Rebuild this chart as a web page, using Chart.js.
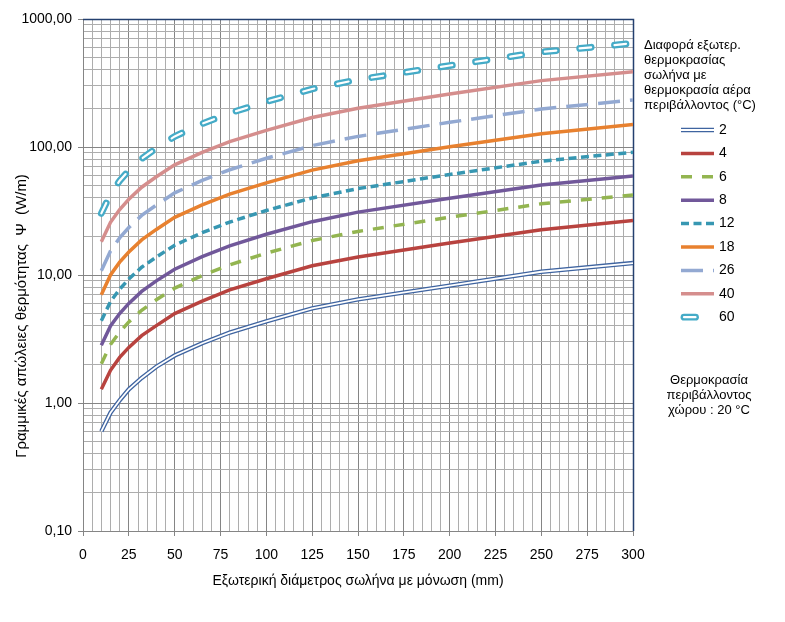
<!DOCTYPE html>
<html>
<head>
<meta charset="utf-8">
<script src="https://cdn.jsdelivr.net/npm/chart.js@4.4.1/dist/chart.umd.min.js"></script>
<style>
    html, body { margin: 0; padding: 0; background: #fff; }
    #wrap { width: 785px; height: 622px; }
</style>
</head>
<body>
<div id="wrap"><canvas id="myChart" width="785" height="622"></canvas></div>
<script>
// Εξωτερική διάμετρος (mm)
const diameters = [10, 15, 20, 25, 32, 40, 50, 65, 80, 100, 125, 150, 200, 250, 300];

// Γραμμικές απώλειες (W/m) ανά διαφορά θερμοκρασίας
const dT2  = [0.60, 0.84, 1.05, 1.28, 1.57, 1.92, 2.35, 2.93, 3.55, 4.35, 5.48, 6.45, 8.25, 10.6, 12.4];
const dT4  = [1.28, 1.80, 2.27, 2.72, 3.36, 4.02, 5.0, 6.25, 7.65, 9.35, 11.8, 13.8, 17.8, 22.6, 26.6];
const dT6  = [2.03, 2.86, 3.58, 4.3, 5.3, 6.4, 7.9, 9.9, 12.0, 14.8, 18.6, 21.9, 28.3, 36.0, 42.2];
const dT8  = [2.82, 4.0, 5.0, 6.0, 7.45, 9.0, 11.1, 13.9, 16.9, 20.8, 26.1, 31.0, 39.8, 50.5, 59.3];
const dT12 = [4.4, 6.2, 7.75, 9.3, 11.5, 13.8, 17.1, 21.4, 25.9, 31.9, 40.0, 47.3, 61.0, 77.5, 91.0];
const dT18 = [7.0, 10.0, 12.6, 15.1, 18.8, 22.7, 28.2, 35.3, 42.8, 52.5, 66.0, 78.0, 100.5, 127, 150];
const dT26 = [10.8, 15.4, 19.5, 23.5, 29.2, 35.2, 43.8, 54.8, 66.4, 81.6, 102.5, 121, 156, 198, 233];
const dT40 = [18.2, 25.8, 32.5, 39.0, 48.5, 58.5, 72.6, 90.9, 110, 135, 170, 201, 259, 330, 387];
const dT60 = [30.3, 43.0, 54.5, 65.5, 81.0, 98.0, 121, 152, 184, 226, 284, 336, 433, 552, 646];

const seriesLabels = ["2", "4", "6", "8", "12", "18", "26", "40", "60"];
const seriesValues = [dT2, dT4, dT6, dT8, dT12, dT18, dT26, dT40, dT60];

const yDecadeTicks = [0.1, 1, 10, 100, 1000];
const xMajorStep = 25;
const xMinorStep = 5;

const legendTitle = ["Διαφορά εξωτερ.", "θερμοκρασίας", "σωλήνα με", "θερμοκρασία αέρα", "περιβάλλοντος (°C)"];
const noteText = ["Θερμοκρασία", "περιβάλλοντος", "χώρου : 20 °C"];

const FONT = "Arial, 'Liberation Sans', sans-serif";

// στυλ γραμμών (double = διπλή γραμμή με λευκό εσωτερικό)
const styles = [
    { color: "#3f64a0", width: 4.4, dash: [], double: true, inner: 1.8 },
    { color: "#b8433f", width: 3.5, dash: [] },
    { color: "#93b550", width: 3.5, dash: [11, 10] },
    { color: "#71589a", width: 3.5, dash: [] },
    { color: "#3797b2", width: 3.5, dash: [8, 4.5] },
    { color: "#e8812f", width: 3.5, dash: [] },
    { color: "#93a9d2", width: 3.5, dash: [22, 10] },
    { color: "#d58e8d", width: 3.5, dash: [] },
    { color: "#45abc7", width: 6.8, dash: [11.5, 23.5], double: true, inner: 2.2, cap: "round" },
];

const datasets = [];
seriesValues.forEach((vals, i) => {
    const st = styles[i];
    const pts = diameters.map((d, k) => ({ x: d, y: vals[k] }));
    const base = (8 - i) * 2;
    datasets.push({
        label: seriesLabels[i],
        data: pts,
        borderColor: st.color,
        borderWidth: st.width,
        borderDash: st.dash,
        borderCapStyle: st.cap || "butt",
        pointRadius: 0,
        tension: 0,
        fill: false,
        order: base + 1,
    });
    if (st.double) {
        datasets.push({
            label: seriesLabels[i] + "_inner",
            data: pts,
            borderColor: "#ffffff",
            borderWidth: st.inner,
            borderDash: st.dash,
            borderCapStyle: st.cap || "butt",
            pointRadius: 0,
            tension: 0,
            fill: false,
            order: base,
        });
    }
});

const isDecade = v => yDecadeTicks.some(d => Math.abs(v - d) / d < 1e-6);

// περίγραμμα πάνω/δεξιά
const frameBorder = {
    id: "frameBorder",
    beforeDatasetsDraw(chart) {
        const { ctx, chartArea: a } = chart;
        ctx.save();
        ctx.strokeStyle = "#24406f";
        ctx.lineWidth = 1.5;
        ctx.beginPath();
        ctx.moveTo(a.left, a.top + 0.5);
        ctx.lineTo(a.right + 0.5, a.top + 0.5);
        ctx.lineTo(a.right + 0.5, a.bottom);
        ctx.stroke();
        ctx.restore();
    }
};

// υπόμνημα, τίτλος άξονα y και σημείωση
const sideText = {
    id: "sideText",
    afterDraw(chart) {
        const ctx = chart.ctx;
        ctx.save();
        ctx.fillStyle = "#000";

        // τίτλος άξονα y
        ctx.save();
        ctx.translate(22, 316);
        ctx.rotate(-Math.PI / 2);
        ctx.font = "15px " + FONT;
        ctx.textAlign = "center";
        ctx.textBaseline = "middle";
        ctx.fillText("Γραμμικές απώλειες θερμότητας  Ψ  (W/m)", 0, 0);
        ctx.restore();

        // τίτλος υπομνήματος
        ctx.font = "13px " + FONT;
        ctx.textAlign = "left";
        ctx.textBaseline = "middle";
        legendTitle.forEach((t, i) => ctx.fillText(t, 644, 45 + i * 15));

        // στοιχεία υπομνήματος
        seriesLabels.forEach((lab, i) => {
            const st = styles[i];
            const y = 130 + i * 23.4;
            const x0 = 681, x1 = 714;
            const line = (color, w) => {
                ctx.beginPath();
                ctx.strokeStyle = color;
                ctx.lineWidth = w;
                ctx.lineCap = st.cap || "butt";
                ctx.setLineDash(st.dash);
                ctx.moveTo(st.cap ? x0 + 3 : x0, y);
                ctx.lineTo(x1, y);
                ctx.stroke();
            };
            line(st.color, st.width);
            if (st.double) line("#fff", st.inner);
            ctx.setLineDash([]);
            ctx.font = "14px " + FONT;
            ctx.fillStyle = "#000";
            ctx.fillText(lab, 719, y);
        });

        // σημείωση
        ctx.font = "13px " + FONT;
        ctx.textAlign = "center";
        noteText.forEach((t, i) => ctx.fillText(t, 709, 380 + i * 15));
        ctx.restore();
    }
};

const ctx = document.getElementById("myChart").getContext("2d");
new Chart(ctx, {
    type: "line",
    data: { datasets: datasets },
    plugins: [frameBorder, sideText],
    options: {
        responsive: false,
        animation: false,
        devicePixelRatio: 1,
        layout: { padding: { left: 0, top: 19, right: 152, bottom: 0 } },
        plugins: {
            legend: { display: false },
            tooltip: { enabled: false },
        },
        scales: {
            x: {
                type: "linear",
                min: 0,
                max: 300,
                afterBuildTicks: scale => {
                    const t = [];
                    for (let v = 0; v <= 300; v += xMinorStep) t.push({ value: v });
                    scale.ticks = t;
                },
                afterFit: scale => { scale.height = 91; },
                ticks: {
                    autoSkip: false,
                    maxRotation: 0,
                    padding: 11,
                    color: "#000",
                    font: { size: 14, family: FONT },
                    callback: v => (v % xMajorStep === 0 ? String(v) : ""),
                },
                grid: {
                    color: c => (c.tick && c.tick.value % xMajorStep === 0 ? "#858585" : "#adadad"),
                    tickColor: c => (c.tick && c.tick.value % xMajorStep === 0 ? "#858585" : "rgba(0,0,0,0)"),
                    tickLength: 5,
                    lineWidth: 1,
                },
                border: { color: "#858585" },
                title: {
                    display: true,
                    text: "Εξωτερική διάμετρος σωλήνα με μόνωση (mm)",
                    color: "#000",
                    font: { size: 14, family: FONT },
                    padding: { top: 10, bottom: 32 },
                },
            },
            y: {
                type: "logarithmic",
                min: 0.1,
                max: 1000,
                afterBuildTicks: scale => {
                    const t = [];
                    yDecadeTicks.slice(0, -1).forEach(d => {
                        for (let k = 1; k <= 9; k++) t.push({ value: Number((k * d).toPrecision(3)) });
                    });
                    t.push({ value: yDecadeTicks[yDecadeTicks.length - 1] });
                    scale.ticks = t;
                },
                afterFit: scale => { scale.width = 83; },
                ticks: {
                    autoSkip: false,
                    padding: 6,
                    color: "#000",
                    font: { size: 14, family: FONT },
                    callback: v => (isDecade(v) ? v.toFixed(2).replace(".", ",") : ""),
                },
                grid: {
                    color: c => (c.tick && isDecade(c.tick.value) ? "#858585" : "#adadad"),
                    tickColor: c => (c.tick && isDecade(c.tick.value) ? "#858585" : "rgba(0,0,0,0)"),
                    tickLength: 5,
                    lineWidth: 1,
                },
                border: { color: "#858585" },
            },
        },
    },
});
</script>
</body>
</html>
